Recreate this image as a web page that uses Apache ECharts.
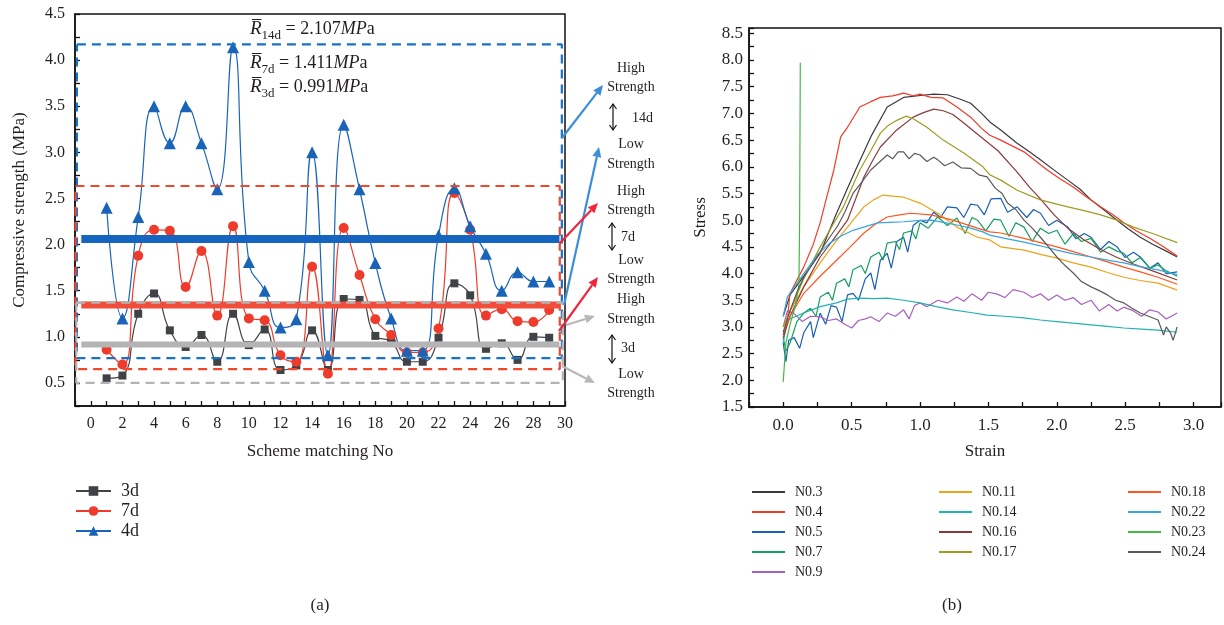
<!DOCTYPE html>
<html><head><meta charset="utf-8">
<script src="https://cdn.jsdelivr.net/npm/echarts@6/dist/echarts.min.js"></script>
<style>html,body{margin:0;padding:0;background:#fff}#c{width:1224px;height:625px}</style>
</head><body><div id="c"></div>
<script>
// ---------------- DATA (a) ----------------
const schemeNo = [1,2,3,4,5,6,7,8,9,10,11,12,13,14,15,16,17,18,19,20,21,22,23,24,25,26,27,28,29];
const strength3d = [0.55,0.58,1.25,1.47,1.07,0.89,1.02,0.73,1.25,0.91,1.08,0.64,0.69,1.07,0.64,1.41,1.40,1.01,0.95,0.73,0.73,0.99,1.58,1.45,0.87,0.93,0.75,1.00,0.99];
const strength7d = [0.86,0.70,1.88,2.16,2.15,1.54,1.93,1.23,2.20,1.20,1.18,0.80,0.73,1.76,0.60,2.18,1.67,1.19,1.02,0.83,0.83,1.09,2.56,2.16,1.23,1.30,1.17,1.16,1.29];
const strength14d = [2.40,1.20,2.30,3.50,3.10,3.50,3.10,2.60,4.14,1.81,1.50,1.10,1.19,3.00,0.80,3.30,2.60,1.80,1.20,0.85,0.85,2.10,2.61,2.20,1.90,1.50,1.70,1.60,1.60];
const seriesNamesA = ['3d','7d','4d'];
const bandAges = ['14d','7d','3d'];
const bandHigh = [4.17,2.635,1.37];
const bandMean = [2.06,1.345,0.917];
const bandLow  = [0.77,0.65,0.50];
const meanTexts = ['2.107','1.411','0.991'];

// ---------------- DATA (b) ----------------
const curveNames = ['N0.3','N0.4','N0.5','N0.7','N0.9','N0.11','N0.14','N0.16','N0.17','N0.18','N0.22','N0.23','N0.24'];
const N0_3 = [[0,3.2],[0.05,3.6],[0.15,3.95],[0.27,4.38],[0.39,5.13],[0.47,5.6],[0.54,6.0],[0.64,6.56],[0.76,7.12],[0.88,7.3],[1.02,7.34],[1.1,7.36],[1.2,7.35],[1.3,7.26],[1.37,7.19],[1.45,7.0],[1.51,6.84],[1.59,6.69],[1.71,6.44],[1.8,6.28],[1.88,6.13],[2.0,5.9],[2.08,5.75],[2.17,5.58],[2.25,5.38],[2.35,5.18],[2.44,5.0],[2.52,4.84],[2.61,4.68],[2.7,4.55],[2.8,4.42],[2.88,4.31]];
const N0_4 = [[0,2.85],[0.03,3.13],[0.05,3.63],[0.15,4.12],[0.22,4.55],[0.27,4.95],[0.32,5.45],[0.37,5.94],[0.42,6.56],[0.47,6.74],[0.56,7.12],[0.64,7.22],[0.71,7.3],[0.8,7.33],[0.88,7.38],[0.95,7.33],[1.0,7.36],[1.08,7.3],[1.17,7.29],[1.27,7.12],[1.37,6.93],[1.45,6.72],[1.51,6.59],[1.59,6.5],[1.76,6.28],[1.93,5.94],[2.02,5.78],[2.12,5.62],[2.22,5.43],[2.32,5.25],[2.41,5.1],[2.49,4.95],[2.58,4.8],[2.68,4.66],[2.78,4.5],[2.88,4.33]];
const N0_5 = [[0,2.7],[0.02,2.35],[0.04,2.75],[0.08,2.8],[0.12,2.6],[0.15,2.89],[0.2,3.1],[0.22,2.8],[0.27,3.26],[0.31,3.05],[0.35,3.4],[0.39,3.37],[0.43,3.1],[0.47,3.6],[0.51,3.63],[0.55,3.5],[0.6,3.9],[0.64,4.01],[0.67,3.7],[0.71,4.25],[0.76,4.38],[0.79,4.1],[0.83,4.6],[0.88,4.68],[0.91,4.4],[0.95,4.9],[1.0,5.0],[1.05,4.95],[1.1,5.15],[1.15,5.05],[1.2,5.25],[1.27,5.23],[1.32,5.05],[1.37,5.3],[1.42,5.28],[1.47,5.1],[1.52,5.4],[1.59,5.41],[1.64,5.15],[1.71,5.25],[1.78,5.05],[1.83,5.2],[1.88,5.13],[1.94,4.9],[2.0,5.0],[2.08,4.87],[2.14,4.65],[2.2,4.75],[2.25,4.68],[2.32,4.45],[2.38,4.6],[2.44,4.5],[2.5,4.3],[2.56,4.4],[2.61,4.31],[2.68,4.1],[2.74,4.2],[2.8,4.0],[2.88,4.03]];
const N0_7 = [[0,2.8],[0.02,2.55],[0.05,2.7],[0.1,3.1],[0.15,3.26],[0.2,3.35],[0.24,3.2],[0.27,3.56],[0.33,3.65],[0.36,3.5],[0.39,3.82],[0.45,3.9],[0.48,3.75],[0.51,4.07],[0.57,4.15],[0.6,4.0],[0.64,4.31],[0.7,4.4],[0.73,4.25],[0.76,4.57],[0.82,4.6],[0.85,4.45],[0.88,4.76],[0.94,4.8],[0.97,4.65],[1.0,4.95],[1.06,4.85],[1.13,5.06],[1.2,4.9],[1.27,5.04],[1.33,4.75],[1.38,5.05],[1.42,5.0],[1.48,4.8],[1.54,5.02],[1.59,5.0],[1.65,4.7],[1.7,4.95],[1.76,4.87],[1.82,4.6],[1.88,4.85],[1.94,4.75],[2.0,4.81],[2.06,4.55],[2.12,4.75],[2.18,4.6],[2.25,4.66],[2.32,4.4],[2.38,4.5],[2.44,4.42],[2.49,4.38],[2.55,4.2],[2.61,4.3],[2.68,4.1],[2.74,4.16],[2.8,4.05],[2.88,3.95]];
const N0_9 = [[0,3.0],[0.03,3.3],[0.08,3.25],[0.14,3.1],[0.2,3.2],[0.27,3.19],[0.33,3.12],[0.39,3.15],[0.45,3.05],[0.5,2.98],[0.55,3.12],[0.6,3.15],[0.64,3.19],[0.7,3.1],[0.76,3.26],[0.82,3.2],[0.88,3.32],[0.92,3.15],[0.96,3.4],[1.0,3.45],[1.05,3.38],[1.13,3.5],[1.2,3.45],[1.27,3.56],[1.32,3.48],[1.38,3.62],[1.45,3.5],[1.5,3.65],[1.56,3.62],[1.62,3.55],[1.68,3.7],[1.76,3.65],[1.82,3.55],[1.88,3.62],[1.94,3.5],[2.0,3.6],[2.06,3.5],[2.12,3.55],[2.18,3.42],[2.25,3.5],[2.31,3.3],[2.38,3.42],[2.44,3.3],[2.49,3.37],[2.56,3.3],[2.62,3.2],[2.68,3.32],[2.74,3.28],[2.8,3.15],[2.88,3.26]];
const N0_11 = [[0,3.0],[0.05,3.3],[0.15,3.75],[0.27,4.2],[0.37,4.55],[0.47,4.87],[0.59,5.25],[0.66,5.38],[0.73,5.47],[0.8,5.45],[0.88,5.43],[1.0,5.32],[1.13,5.13],[1.27,4.87],[1.42,4.68],[1.51,4.63],[1.59,4.5],[1.76,4.44],[1.88,4.36],[2.0,4.29],[2.12,4.2],[2.25,4.12],[2.37,4.02],[2.49,3.93],[2.61,3.87],[2.74,3.82],[2.88,3.69]];
const N0_14 = [[0,2.7],[0.03,3.13],[0.15,3.26],[0.27,3.38],[0.39,3.45],[0.47,3.52],[0.56,3.54],[0.66,3.53],[0.76,3.54],[0.88,3.5],[1.0,3.45],[1.12,3.38],[1.24,3.32],[1.37,3.27],[1.49,3.22],[1.62,3.2],[1.76,3.17],[1.88,3.13],[2.0,3.1],[2.12,3.07],[2.25,3.04],[2.37,3.01],[2.49,2.98],[2.62,2.96],[2.74,2.94],[2.88,2.9]];
const N0_16 = [[0,2.8],[0.05,3.2],[0.15,3.75],[0.27,4.31],[0.37,4.65],[0.47,5.0],[0.53,5.4],[0.59,5.81],[0.65,6.1],[0.71,6.37],[0.83,6.69],[0.95,6.93],[1.03,7.02],[1.1,7.08],[1.17,7.05],[1.24,6.98],[1.32,6.82],[1.45,6.55],[1.57,6.3],[1.71,5.9],[1.8,5.62],[1.88,5.4],[1.98,5.1],[2.08,4.85],[2.2,4.63],[2.32,4.45],[2.44,4.3],[2.56,4.18],[2.7,4.05],[2.88,3.88]];
const N0_17 = [[0,3.0],[0.05,3.3],[0.15,3.9],[0.27,4.5],[0.36,4.9],[0.44,5.25],[0.5,5.6],[0.56,5.94],[0.64,6.3],[0.71,6.63],[0.77,6.78],[0.83,6.87],[0.9,6.95],[0.95,6.9],[1.0,6.82],[1.05,6.74],[1.17,6.5],[1.32,6.26],[1.46,6.0],[1.51,5.85],[1.59,5.75],[1.71,5.56],[1.88,5.38],[2.0,5.3],[2.08,5.25],[2.2,5.18],[2.32,5.1],[2.44,5.0],[2.56,4.87],[2.7,4.75],[2.88,4.58]];
const N0_18 = [[0,2.9],[0.05,3.2],[0.15,3.63],[0.27,3.95],[0.39,4.25],[0.49,4.5],[0.59,4.76],[0.67,4.92],[0.76,5.06],[0.85,5.1],[0.93,5.13],[1.08,5.1],[1.24,5.0],[1.42,4.85],[1.51,4.78],[1.59,4.76],[1.76,4.66],[1.88,4.58],[2.0,4.5],[2.12,4.41],[2.25,4.31],[2.37,4.22],[2.49,4.12],[2.61,4.03],[2.74,3.93],[2.88,3.8]];
const N0_22 = [[0,3.2],[0.03,3.56],[0.15,4.0],[0.25,4.35],[0.34,4.57],[0.42,4.7],[0.51,4.81],[0.6,4.88],[0.69,4.95],[0.78,4.96],[0.88,4.97],[0.98,4.99],[1.08,5.0],[1.17,4.96],[1.27,4.91],[1.37,4.85],[1.46,4.78],[1.51,4.72],[1.62,4.66],[1.76,4.59],[1.88,4.52],[2.0,4.44],[2.12,4.37],[2.25,4.31],[2.37,4.25],[2.49,4.2],[2.61,4.13],[2.74,4.07],[2.88,3.98]];
const N0_23 = [[0,1.97],[0.02,2.7],[0.05,3.05],[0.09,3.4],[0.115,3.8],[0.12,5.0],[0.125,7.95]];
const N0_24 = [[0,2.9],[0.05,3.3],[0.1,3.65],[0.15,3.93],[0.22,4.2],[0.28,4.45],[0.34,4.68],[0.4,4.9],[0.45,5.15],[0.51,5.5],[0.57,5.7],[0.64,5.94],[0.7,6.08],[0.76,6.22],[0.8,6.15],[0.84,6.28],[0.88,6.28],[0.92,6.15],[0.96,6.25],[1.0,6.22],[1.05,6.1],[1.1,6.18],[1.13,6.13],[1.18,6.02],[1.24,6.09],[1.3,5.98],[1.37,5.97],[1.43,5.85],[1.49,5.81],[1.55,5.6],[1.6,5.5],[1.64,5.32],[1.7,5.2],[1.76,5.0],[1.82,4.85],[1.88,4.68],[1.94,4.5],[2.0,4.31],[2.06,4.15],[2.12,4.01],[2.18,3.85],[2.25,3.75],[2.31,3.68],[2.37,3.6],[2.43,3.5],[2.49,3.45],[2.55,3.35],[2.61,3.26],[2.67,3.2],[2.74,3.13],[2.78,2.85],[2.8,3.0],[2.83,2.89],[2.85,2.75],[2.88,3.0]];
const curveData = [N0_3,N0_4,N0_5,N0_7,N0_9,N0_11,N0_14,N0_16,N0_17,N0_18,N0_22,N0_23,N0_24];

// ---------------- STYLE ----------------
const FONT = 'Liberation Serif';
const TXT = '#231f20';
const colorsA = ['#404346','#ef3b2c','#1a64b8'];
const bandDashColors = ['#1a72c8','#f0482a','#b4b4b4'];
const bandSolidColors = ['#1565c0','#f04e3a','#b4b4b4'];
const bandDashX = [[-0.88,29.8],[-0.97,29.67],[-0.92,29.86]];
const bandSolidX = [-0.6,29.65];
const bandSolidW = [8,7,6];
const curveColors = ['#3a3a3a','#f23a2a','#1a5fb4','#16a05e','#a660c0','#eca21c','#24b2b0','#8b3a3c','#9c9c22','#ff5520','#36a6e0','#46b846','#5a5a5a'];

const chart = echarts.init(document.getElementById('c'), null, {renderer:'canvas'});

const seriesA = [strength3d, strength7d, strength14d].map((vals, k) => ({
  name: seriesNamesA[k], type: 'line', xAxisIndex: 0, yAxisIndex: 0,
  smooth: 0.5, z: 3,
  data: schemeNo.map((x, i) => [x, vals[i]]),
  symbol: ['rect','circle','triangle'][k],
  symbolSize: [8, 10, 12][k],
  lineStyle: {color: colorsA[k], width: 1.2},
  itemStyle: {color: colorsA[k]}
}));

const bandSeries = [];
bandAges.forEach((age, i) => {
  const [xl, xr] = bandDashX[i];
  bandSeries.push({
    name: 'band-' + age, type: 'line', xAxisIndex: 0, yAxisIndex: 0, z: 4,
    symbol: 'none', silent: true,
    data: [[xl, bandHigh[i]], [xr, bandHigh[i]], [xr, bandLow[i]], [xl, bandLow[i]], [xl, bandHigh[i]]],
    lineStyle: {color: bandDashColors[i], width: 2.2, type: [9, 6]}
  });
  bandSeries.push({
    name: 'mean-' + age, type: 'line', xAxisIndex: 0, yAxisIndex: 0, z: 5 + (i === 2 ? 1 : 0),
    symbol: 'none', silent: true,
    data: [[bandSolidX[0], bandMean[i]], [bandSolidX[1], bandMean[i]]],
    lineStyle: {color: bandSolidColors[i], width: bandSolidW[i]}
  });
});
bandSeries.push({
  name: 'band-3d-top', type: 'line', xAxisIndex: 0, yAxisIndex: 0, z: 7,
  symbol: 'none', silent: true,
  data: [[bandDashX[2][0], bandHigh[2]], [bandDashX[2][1], bandHigh[2]]],
  lineStyle: {color: bandDashColors[2], width: 2.2, type: [9, 6]}
});

const seriesB = curveNames.map((n, i) => ({
  name: n, type: 'line', xAxisIndex: 1, yAxisIndex: 1, symbol: 'none',
  data: curveData[i], lineStyle: {color: curveColors[i], width: 1.2}, itemStyle: {color: curveColors[i]}
}));

// ---------------- graphic helpers ----------------
function arrow(x1, y1, x2, y2, color) {
  const a = Math.atan2(y2 - y1, x2 - x1), L = 10, W = 4.5;
  const bx = x2 - L * Math.cos(a), by = y2 - L * Math.sin(a);
  return [
    {type: 'line', shape: {x1, y1, x2: bx, y2: by}, style: {stroke: color, lineWidth: 2.2}, z: 10},
    {type: 'polygon', shape: {points: [[x2, y2], [bx + W * Math.sin(a), by - W * Math.cos(a)], [bx - W * Math.sin(a), by + W * Math.cos(a)]]}, style: {fill: color}, z: 10}
  ];
}
function dblArrow(x, y1, y2) {
  return [
    {type: 'line', shape: {x1: x, y1: y1, x2: x, y2: y2}, style: {stroke: '#111', lineWidth: 1.2}},
    {type: 'polyline', shape: {points: [[x - 3.5, y1 + 5], [x, y1], [x + 3.5, y1 + 5]]}, style: {stroke: '#111', lineWidth: 1.2, fill: null}},
    {type: 'polyline', shape: {points: [[x - 3.5, y2 - 5], [x, y2], [x + 3.5, y2 - 5]]}, style: {stroke: '#111', lineWidth: 1.2, fill: null}}
  ];
}
function txt(x, y, s, size, align) {
  return {type: 'text', x: x, y: y, style: {text: s, fill: TXT, font: size + 'px "' + FONT + '"', align: align || 'center', verticalAlign: 'middle'}, z: 10};
}
const richR = {
  r: {fontFamily: FONT, fontSize: 19, fontStyle: 'italic', fill: TXT, lineHeight: 22, verticalAlign: 'bottom'},
  s: {fontFamily: FONT, fontSize: 13, fill: TXT, lineHeight: 22, verticalAlign: 'bottom', padding: [0, 0, -4, 0]},
  t: {fontFamily: FONT, fontSize: 18, fill: TXT, lineHeight: 22, verticalAlign: 'bottom'},
  i: {fontFamily: FONT, fontSize: 18, fontStyle: 'italic', fill: TXT, lineHeight: 22, verticalAlign: 'bottom'}
};
function meanLabel(y, i) {
  return {type: 'text', x: 250, y: y, z: 10, style: {
    text: '{r|R\u0305}{s|' + bandAges[i] + '}{t| = ' + meanTexts[i] + '}{i|MP}{t|a}',
    rich: richR, verticalAlign: 'middle', align: 'left'}};
}

const graphic = [].concat(
  meanLabel(27, 0), meanLabel(61, 1), meanLabel(85, 2),
  arrow(562, 138, 603, 85, '#3d8ed8'),
  arrow(564, 305, 599, 147, '#3d8ed8'),
  arrow(560, 243, 598, 203, '#f0263c'),
  arrow(559, 331, 598, 277, '#f0263c'),
  arrow(566, 325, 595, 316, '#b8b8b8'),
  arrow(562, 366, 595, 383, '#b8b8b8'),
  txt(631, 68, 'High', 14), txt(631, 87, 'Strength', 14),
  dblArrow(613, 104, 130), txt(632, 118, '14d', 14, 'left'),
  txt(631, 144, 'Low', 14), txt(631, 164, 'Strength', 14),
  txt(631, 191, 'High', 14), txt(631, 210, 'Strength', 14),
  dblArrow(612, 223, 250), txt(621, 237, '7d', 14, 'left'),
  txt(631, 260, 'Low', 14), txt(631, 279, 'Strength', 14),
  txt(631, 299, 'High', 14), txt(631, 319, 'Strength', 14),
  dblArrow(612, 335, 363), txt(621, 348, '3d', 14, 'left'),
  txt(631, 374, 'Low', 14), txt(631, 393, 'Strength', 14),
  txt(320, 606, '(a)', 17), txt(952, 606, '(b)', 17)
);

function legendB(names, left) {
  return {data: names, orient: 'vertical', left: left, top: 485, padding: 0, itemWidth: 33, itemHeight: 14, itemGap: 6,
    textStyle: {fontFamily: FONT, fontSize: 14, color: TXT, lineHeight: 14, padding: [0, 0, 0, 5]}, icon: 'path://M0,6L33,6L33,8L0,8Z', selectedMode: false};
}

const axisCommon = {
  axisLine: {onZero: false, lineStyle: {color: '#111', width: 1.5}},
  axisTick: {inside: true, length: 5, lineStyle: {color: '#111', width: 1.3}},
  splitLine: {show: false},
  axisLabel: {fontFamily: FONT, fontSize: 17, color: TXT}
};

const option = {
  backgroundColor: '#fff',
  animation: false,
  textStyle: {fontFamily: FONT},
  grid: [
    {left: 75, top: 14, width: 490, height: 392, show: true, borderColor: '#111', borderWidth: 1.5, backgroundColor: 'transparent'},
    {left: 749, top: 28, width: 472, height: 379, show: true, borderColor: '#111', borderWidth: 1.5, backgroundColor: 'transparent'}
  ],
  xAxis: [
    Object.assign({}, axisCommon, {gridIndex: 0, type: 'value', min: -1, max: 30, interval: 1,
      name: 'Scheme matching No', nameLocation: 'middle', nameGap: 37,
      nameTextStyle: {fontFamily: FONT, fontSize: 17, color: TXT},
      axisLabel: {fontFamily: FONT, fontSize: 16, color: TXT, margin: 10, showMinLabel: true, showMaxLabel: true,
        formatter: v => (v >= 0 && Math.abs(v % 2) < 1e-6) ? String(Math.round(v)) : ''}}),
    Object.assign({}, axisCommon, {gridIndex: 1, type: 'value', min: -0.25, max: 3.2, interval: 0.25,
      name: 'Strain', nameLocation: 'middle', nameGap: 36,
      nameTextStyle: {fontFamily: FONT, fontSize: 17, color: TXT},
      axisLabel: {fontFamily: FONT, fontSize: 17, color: TXT, margin: 10,
        formatter: v => { const r = Math.round(v * 2) / 2; return (v >= -1e-6 && Math.abs(v - r) < 1e-6 && v <= 3.0001) ? r.toFixed(1) : ''; }}})
  ],
  yAxis: [
    Object.assign({}, axisCommon, {gridIndex: 0, type: 'value', min: 0.25, max: 4.5, interval: 0.25,
      name: 'Compressive strength (MPa)', nameLocation: 'middle', nameGap: 47,
      nameTextStyle: {fontFamily: FONT, fontSize: 17, color: TXT},
      axisLabel: {fontFamily: FONT, fontSize: 16, color: TXT, margin: 10,
        formatter: v => { const r = Math.round(v * 2) / 2; return Math.abs(v - r) < 1e-6 ? r.toFixed(1) : ''; }}}),
    Object.assign({}, axisCommon, {gridIndex: 1, type: 'value', min: 1.5, max: 8.6, interval: 0.25,
      name: 'Stress', nameLocation: 'middle', nameGap: 40,
      nameTextStyle: {fontFamily: FONT, fontSize: 17, color: TXT},
      axisLabel: {fontFamily: FONT, fontSize: 17, color: TXT, margin: 6,
        formatter: v => { const r = Math.round(v * 2) / 2; return (Math.abs(v - r) < 1e-6 && v <= 8.5001) ? r.toFixed(1) : ''; }}})
  ],
  legend: [
    {data: seriesNamesA, orient: 'vertical', left: 75, top: 482, padding: 0, itemWidth: 35, itemHeight: 12, itemGap: 2,
      textStyle: {fontFamily: FONT, fontSize: 18, color: TXT, lineHeight: 17, padding: [0, 0, 0, 5]}, selectedMode: false},
    legendB(curveNames.slice(0, 5), 752),
    legendB(curveNames.slice(5, 9), 939),
    legendB(curveNames.slice(9), 1128)
  ],
  series: seriesA.concat(bandSeries, seriesB),
  graphic: graphic
};
chart.setOption(option);
</script></body></html>
